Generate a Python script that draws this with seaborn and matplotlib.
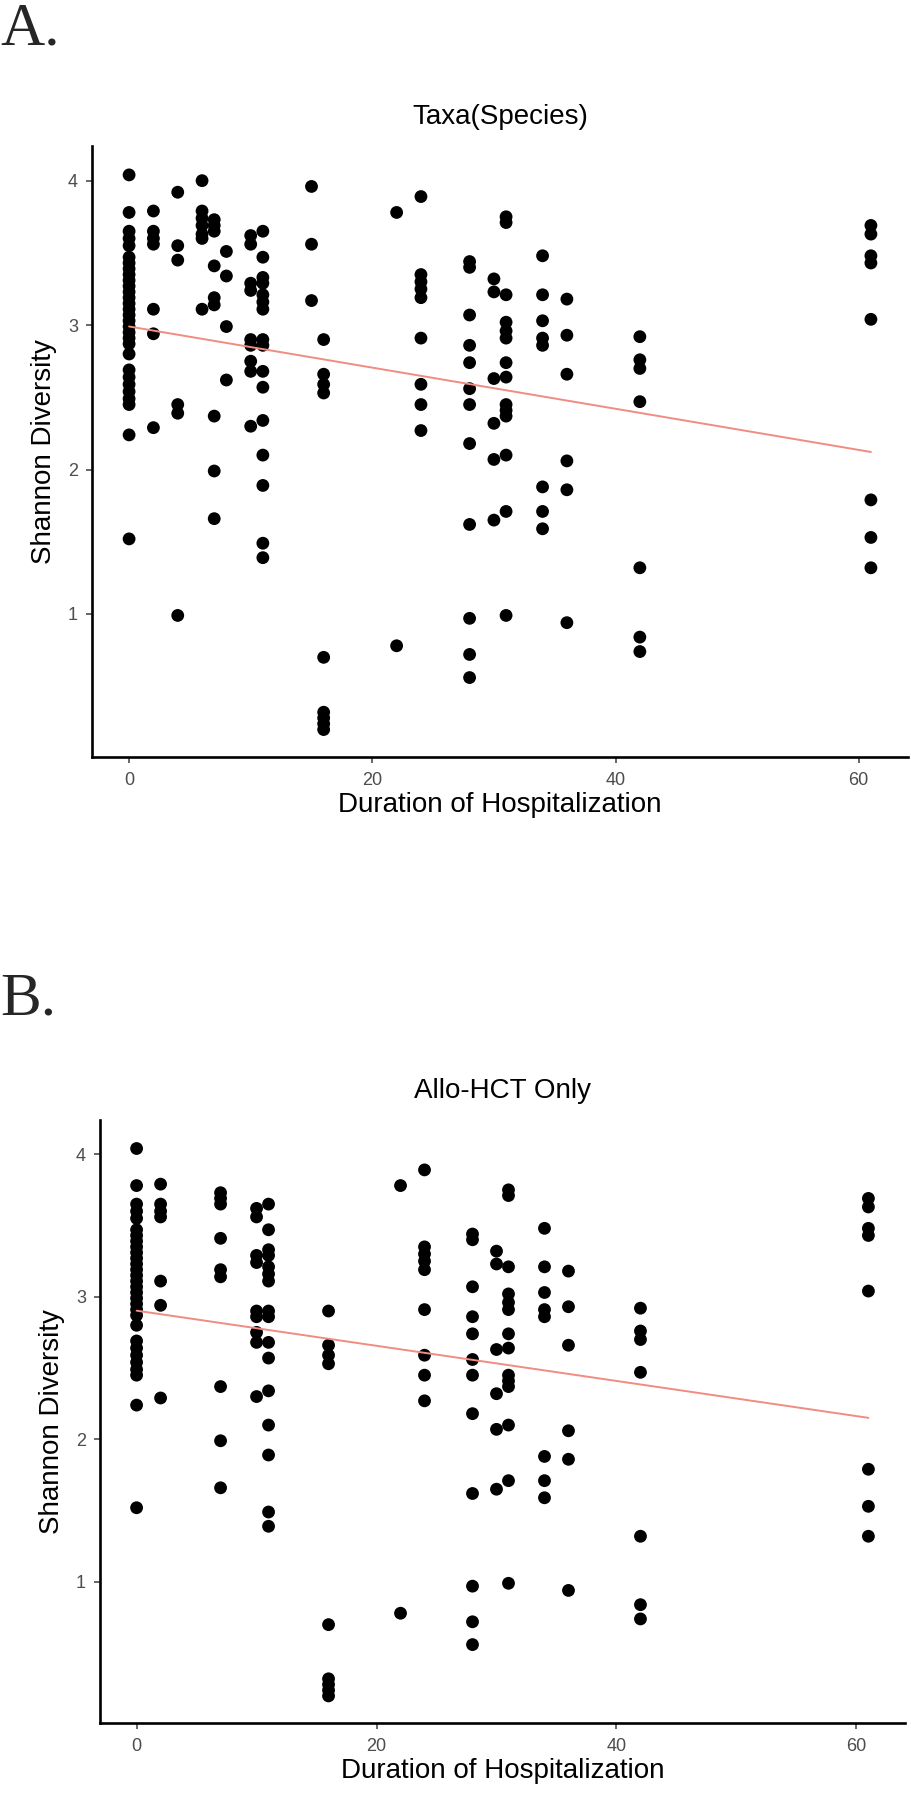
import matplotlib
matplotlib.use("Agg")
import matplotlib.pyplot as plt
import seaborn as sns
import numpy as np
import pandas as pd

# ---- data: Shannon diversity per duration-of-hospitalization day ----
day0 = [4.04, 3.78, 3.65, 3.60, 3.55, 3.47, 3.43, 3.39, 3.35, 3.31, 3.27, 3.23, 3.19, 3.15,
        3.11, 3.07, 3.03, 2.99, 2.95, 2.91, 2.87, 2.80, 2.69, 2.64, 2.59, 2.54, 2.49, 2.45,
        2.24, 1.52]
day2 = [3.79, 3.65, 3.60, 3.56, 3.11, 2.94, 2.29]
day4 = [3.92, 3.55, 3.45, 2.45, 2.39, 0.99]
day6 = [4.00, 3.79, 3.74, 3.69, 3.63, 3.60, 3.11]
day7 = [3.73, 3.69, 3.65, 3.41, 3.19, 3.14, 2.37, 1.99, 1.66]
day8 = [3.51, 3.34, 2.99, 2.62]
day10 = [3.62, 3.56, 3.29, 3.24, 2.90, 2.86, 2.75, 2.68, 2.30]
day11 = [3.65, 3.47, 3.33, 3.29, 3.21, 3.16, 3.11, 2.90, 2.86, 2.68, 2.57, 2.34, 2.10,
         1.89, 1.49, 1.39]
day15 = [3.96, 3.56, 3.17]
day16 = [2.90, 2.66, 2.59, 2.53, 0.70, 0.32, 0.28, 0.24, 0.20]
day22 = [3.78, 0.78]
day24 = [3.89, 3.35, 3.30, 3.25, 3.19, 2.91, 2.59, 2.45, 2.27]
day28 = [3.44, 3.40, 3.07, 2.86, 2.74, 2.56, 2.45, 2.18, 1.62, 0.97, 0.72, 0.56]
day30 = [3.32, 3.23, 2.63, 2.32, 2.07, 1.65]
day31 = [3.75, 3.71, 3.21, 3.02, 2.96, 2.91, 2.74, 2.64, 2.45, 2.41, 2.37, 2.10, 1.71, 0.99]
day34 = [3.48, 3.21, 3.03, 2.91, 2.86, 1.88, 1.71, 1.59]
day36 = [3.18, 2.93, 2.66, 2.06, 1.86, 0.94]
day42 = [2.92, 2.76, 2.70, 2.47, 1.32, 0.84, 0.74]
day61 = [3.69, 3.63, 3.48, 3.43, 3.04, 1.79, 1.53, 1.32]

columns = {0: day0, 2: day2, 4: day4, 6: day6, 7: day7, 8: day8, 10: day10, 11: day11,
           15: day15, 16: day16, 22: day22, 24: day24, 28: day28, 30: day30, 31: day31,
           34: day34, 36: day36, 42: day42, 61: day61}
allo_days = [0, 2, 7, 10, 11, 16, 22, 24, 28, 30, 31, 34, 36, 42, 61]

titles = ["Taxa(Species)", "Allo-HCT Only"]
panel_letters = ["A.", "B."]
x_ticks = [0, 20, 40, 60]
y_ticks = [1, 2, 3, 4]
x_label = "Duration of Hospitalization"
y_label = "Shannon Diversity"

rows = [(d, v) for d, vals in columns.items() for v in vals]
df_all = pd.DataFrame(rows, columns=["duration", "shannon"])
df_allo = df_all[df_all["duration"].isin(allo_days)].reset_index(drop=True)

# ---- style ----
sns.set_theme(style="ticks")
plt.rcParams["font.family"] = ["Liberation Sans", "DejaVu Sans"]

fig = plt.figure(figsize=(9.12, 17.96), dpi=100)
W, H = 912.0, 1796.0
boxes = [(92, 908, 146, 757), (100, 905, 1120, 1723)]
letter_y = [2, 972]
ylabel_pads = [8, 8]

for i, (df, (l, r, t, b)) in enumerate(zip([df_all, df_allo], boxes)):
    ax = fig.add_axes([l / W, 1 - b / H, (r - l) / W, (b - t) / H])
    sns.scatterplot(data=df, x="duration", y="shannon", ax=ax, color="black",
                    s=85, linewidth=0, edgecolor="none", zorder=3)
    sns.regplot(data=df, x="duration", y="shannon", ax=ax, scatter=False, ci=None,
                truncate=True, line_kws=dict(color="#F08C80", lw=1.4, zorder=4))
    ax.set_xlim(-3.05, 64.05)
    ax.set_ylim(0.01, 4.24)
    ax.set_xticks(x_ticks)
    ax.set_yticks(y_ticks)
    ax.set_xlabel(x_label, fontsize=20, color="black", labelpad=2)
    ax.set_ylabel(y_label, fontsize=20, color="black", labelpad=ylabel_pads[i])
    ax.set_title(titles[i], fontsize=20, color="black", pad=16)
    for side in ["top", "right"]:
        ax.spines[side].set_visible(False)
    for side in ["left", "bottom"]:
        ax.spines[side].set_linewidth(1.9)
        ax.spines[side].set_color("black")
    ax.tick_params(axis="both", colors="#4D4D4D", labelsize=13, length=4, width=1.2,
                   labelcolor="#4D4D4D")
    ax.tick_params(axis="x", pad=7)
    ax.tick_params(axis="y", pad=6)
    ax.grid(False)
    fig.text(0.0, 1 - letter_y[i] / H, panel_letters[i], fontsize=44,
             family=["Liberation Serif", "DejaVu Serif"], va="top", ha="left")

fig.savefig("out.png", dpi=100, facecolor="white")
